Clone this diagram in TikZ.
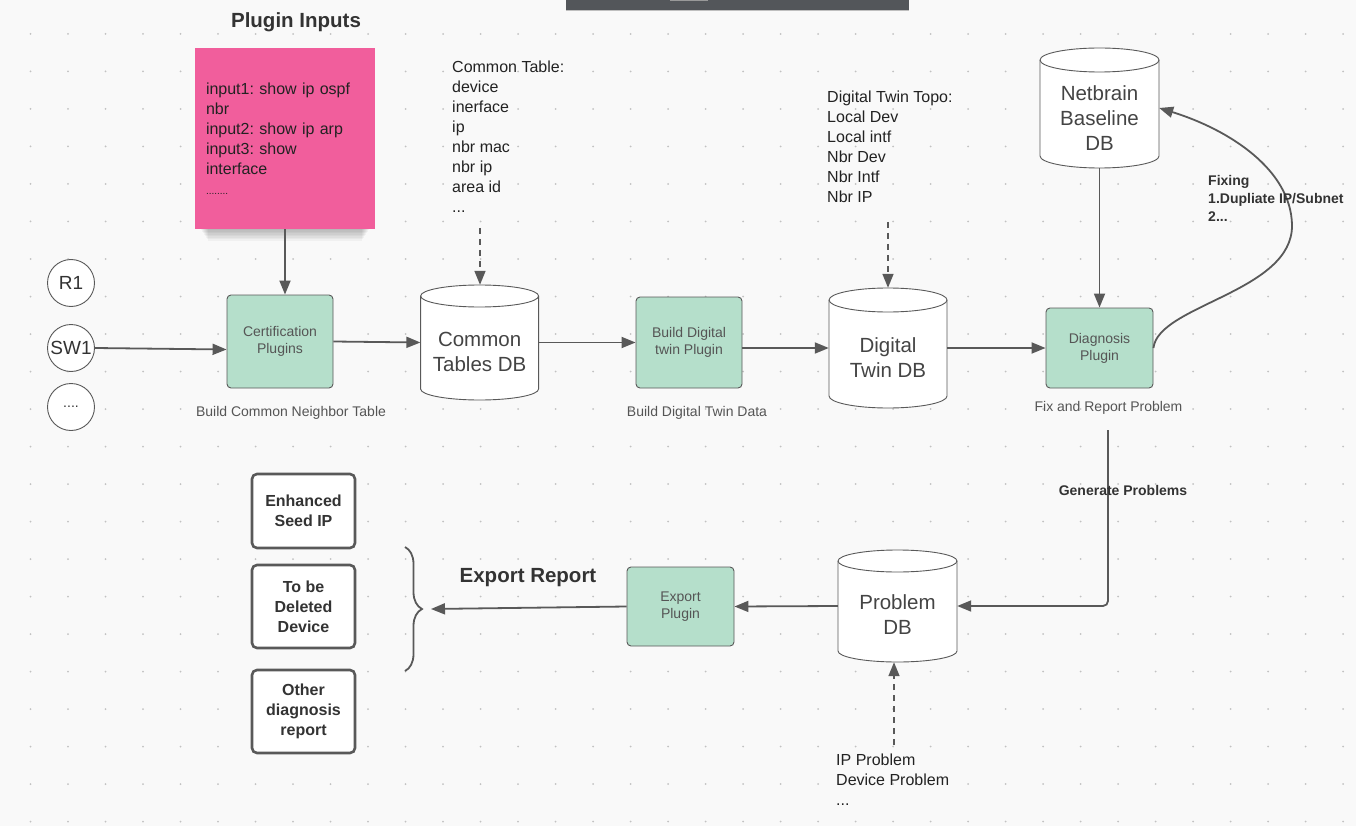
\documentclass[tikz,border=0pt]{standalone}
\usepackage{fontspec}
\setmainfont{Liberation Sans}
\usetikzlibrary{arrows.meta,decorations.pathreplacing}
\frenchspacing
\definecolor{bg}{HTML}{F9F9F9}
\definecolor{ln}{HTML}{595959}
\definecolor{tx}{HTML}{222222}
\definecolor{tg}{HTML}{555555}
\definecolor{tb}{HTML}{333333}
\definecolor{dbt}{HTML}{444444}
\definecolor{pinkc}{HTML}{F15E9C}
\definecolor{plug}{HTML}{B5DFCB}
\definecolor{dotc}{HTML}{C2C2C2}
\definecolor{barc}{HTML}{53565A}
\newcommand\myfs[2]{\fontsize{#1}{#2}\selectfont}
% name, cx, top, bottom, half width, ry, text
\newcommand\mydb[7]{%
  \pgfmathsetmacro\dbL{#2-#5}\pgfmathsetmacro\dbR{#2+#5}%
  \pgfmathsetmacro\dbT{#3+#6}\pgfmathsetmacro\dbB{#4-#6}%
  \pgfmathsetmacro\dbKx{0.5523*#5}\pgfmathsetmacro\dbKy{0.5523*#6}%
  \pgfmathsetmacro\dbE{#3+2*#6}%
  \draw[draw=ln, line width=0.9pt, fill=white]
    (\dbL,\dbT) -- (\dbL,\dbB)
    .. controls (\dbL,\dbB+\dbKy) and (#2-\dbKx,#4) .. (#2,#4)
    .. controls (#2+\dbKx,#4) and (\dbR,\dbB+\dbKy) .. (\dbR,\dbB)
    -- (\dbR,\dbT)
    .. controls (\dbR,\dbT-\dbKy) and (#2+\dbKx,#3) .. (#2,#3)
    .. controls (#2-\dbKx,#3) and (\dbL,\dbT-\dbKy) .. cycle;
  \draw[draw=ln, line width=0.9pt]
    (\dbL,\dbT) .. controls (\dbL,\dbT+\dbKy) and (#2-\dbKx,\dbE) .. (#2,\dbE)
    .. controls (#2+\dbKx,\dbE) and (\dbR,\dbT+\dbKy) .. (\dbR,\dbT);
  \node[inner sep=0pt, minimum width={2*#5}, minimum height={#4-#3}] (#1) at (#2,{(#3+#4)/2}) {};
  \node[dbtext] (#1-t) at (#2,{(\dbE+#4)/2-2}) {#7};
}
\begin{document}
\begin{tikzpicture}[x=1pt, y=-1pt,
  arr/.style={draw=ln, line width=1.8pt, -{Triangle[length=14pt,width=11pt]}},
  darr/.style={arr, line width=1.6pt, dash pattern=on 6pt off 5pt},
  plugin/.style={rectangle, rounded corners=4pt, draw=ln, line width=0.9pt, fill=plug, text=tg, font=\myfs{14}{17}, align=center, minimum width=106pt, inner sep=0pt},
  outbox/.style={rectangle, rounded corners=5pt, draw=ln, line width=2.6pt, fill=white, text=tb, font=\bfseries\myfs{16}{20}, align=center, minimum width=103pt, inner sep=0pt},
  dev/.style={circle, draw=ln, line width=0.9pt, fill=white, minimum size=47pt, inner sep=0pt, text=tb, font=\myfs{19}{22}},
  capt/.style={text=tg, font=\myfs{14}{17}},
  listtxt/.style={text=tx, font=\myfs{16}{20}, align=left, anchor=north west, inner sep=0pt},
  ttl/.style={text=tb, font=\bfseries\myfs{20.5}{24}},
  blab/.style={text=tb, font=\bfseries\myfs{14}{18}, align=left},
  dbtext/.style={text=dbt, font=\myfs{20.5}{25}, align=center, inner sep=0pt}
]
\useasboundingbox (0,0) rectangle (1356,826);
\fill[bg] (0,0) rectangle (1356,826);
% dot grid
\foreach \i in {0,...,35} {
  \foreach \j in {1,...,22} {
    \fill[dotc] ({30.5+37.5*\i},{-3.5+37.5*\j}) circle (1pt);
  }
}
% top bar
\fill[barc] (566,0) rectangle (909,10);
\draw[draw=black!25, line width=0.8pt] (566,10.4) -- (909,10.4);
\fill[black!40] (670,0) rectangle (708,1);

% title
\node[ttl] (ptitle) at (296,22) {Plugin Inputs};
% pink note with shadow
\foreach \k in {1,...,8} {
  \fill[black, opacity=0.035] ({200+\k},60) rectangle ({370-\k},{229+1.5*\k});
}
\node[rectangle, fill=pinkc, minimum width=180pt, minimum height=181pt, inner sep=11pt, text width=158pt, align=left, text=tx, font=\myfs{16}{20}] (pink) at (285,138.5)
  {input1: show ip ospf\\nbr\\input2: show ip arp\\input3: show\\interface\\{\myfs{10}{16}........}};

% devices
\node[dev] (r1) at (71,283) {R1};
\node[dev] (sw1) at (71,348) {SW1};
\node[dev, font=\myfs{14}{17}] (more) at (71,407) {....};

% plugins
\node[plugin, minimum height=93pt] (cert) at (280,341.5) {Certification\\Plugins};
\node[plugin, minimum height=91pt] (bdt) at (689,342.5) {Build Digital\\twin Plugin};
\node[plugin, minimum width=107pt, minimum height=80pt] (diag) at (1099.5,348) {Diagnosis\\Plugin};
\node[plugin, minimum width=107pt, minimum height=79pt] (expo) at (680.5,606.5) {Export\\Plugin};

% databases
\mydb{ctdb}{479.6}{285}{400}{59}{11}{Common\\Tables DB}
\mydb{dtdb}{888}{288}{408}{59}{12}{Digital\\Twin DB}
\mydb{nbdb}{1099.5}{48}{168}{59.5}{12}{Netbrain\\Baseline\\DB}
\mydb{pdb}{897.5}{550}{662}{59.5}{11}{Problem\\DB}

% captions
\node[capt] (c1) at (291,413) {Build Common Neighbor Table};
\node[capt] (c2) at (697,413) {Build Digital Twin Data};
\node[capt] (c3) at (1108.5,408) {Fix and Report Problem};

% lists
\node[listtxt] (ctlist) at (452,61) {Common Table:\\device\\inerface\\ip\\nbr mac\\nbr ip\\area id\\...};
\node[listtxt] (dtlist) at (827,91) {Digital Twin Topo:\\Local Dev\\Local intf\\Nbr Dev\\Nbr Intf\\Nbr IP};
\node[listtxt] (pblist) at (836,754) {IP Problem\\Device Problem\\...};

% output boxes
\node[outbox, minimum height=74pt] (seed) at (303.5,511) {Enhanced\\Seed IP};
\node[outbox, minimum height=83pt] (deld) at (303.5,606.5) {To be\\Deleted\\Device};
\node[outbox, minimum height=83pt] (othr) at (303.5,711.5) {Other\\diagnosis\\report};

% brace
\draw[draw=ln, line width=1.8pt, decorate, decoration={brace, amplitude=17pt}] (405,547) -- (405,671);
\coordinate (bracetip) at (431,609);

% connectors
\draw[arr] (pink.south) -- (pink.south |- cert.north);
\draw[arr] (sw1.east) -- ([yshift=-8pt]cert.west);
\draw[arr] (cert.east) -- (ctdb.west);
\draw[arr] (ctdb.east) -- (bdt.west);
\draw[arr] (bdt.east |- dtdb.west) -- (dtdb.west);
\draw[arr] (dtdb.east) -- (diag.west);
\draw[arr] (nbdb.south) -- (diag.north);
\draw[arr] (diag.east) .. controls (1158,305) and (1293,292) .. (1292,225)
  .. controls (1291,170) and (1230,130) .. (nbdb.east);
\coordinate (genstart) at (1108,430);
\draw[arr, rounded corners=5pt] (genstart) |- (pdb.east);
\draw[arr] (pdb.west) -- (expo.east);
\draw[arr] (expo.west) -- (bracetip);

\coordinate (ctin) at (480,228);
\draw[darr] (ctin) -- (ctin |- ctdb.north);
\coordinate (dtin) at (888,222);
\draw[darr] (dtin) -- (dtin |- dtdb.north);
\coordinate (pbin) at (894,745);
\draw[darr] (pbin) -- (pbin |- pdb.south);

% bold labels
\node[blab, anchor=north west, inner sep=0pt] (fixl) at (1208,175) {Fixing\\1.Dupliate IP/Subnet\\2...};
\node[blab] (genl) at (1123,490) {Generate Problems};
\node[ttl] (expl) at (528,578) {Export Report};
\end{tikzpicture}
\end{document}
